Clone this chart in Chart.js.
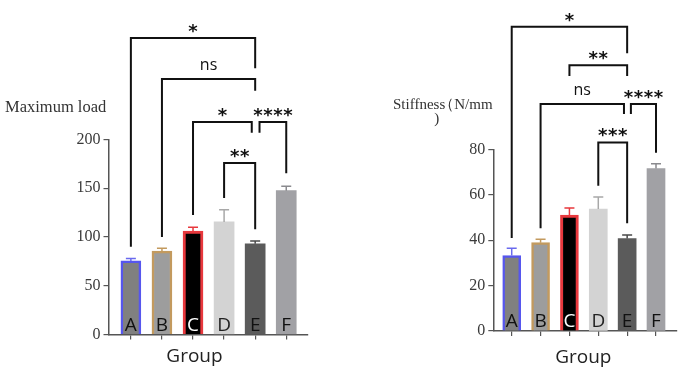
<!DOCTYPE html>
<html>
<head>
<meta charset="utf-8">
<script src="https://cdn.jsdelivr.net/npm/chart.js"></script>
<style>
  body { margin: 0; background: #fff; }
  #wrap { position: relative; width: 685px; height: 369px; }
  canvas { position: absolute; top: 0; }
</style>
</head>
<body>
<div id="wrap">
  <canvas id="load" width="345" height="369" style="left:0"></canvas>
  <canvas id="stiff" width="340" height="369" style="left:345px"></canvas>
</div>
<script>
const groups = ['A', 'B', 'C', 'D', 'E', 'F'];

const loadMeans = [75.5, 85.5, 106, 115.5, 93, 147.5];
const loadErrors = [2.5, 3, 4, 12.5, 3, 4.5];
const loadTicks = [0, 50, 100, 150, 200];

const stiffMeans = [33.2, 38.9, 51, 53.7, 40.7, 71.5];
const stiffErrors = [3.2, 1.5, 3.2, 5.3, 1.6, 2.1];
const stiffTicks = [0, 20, 40, 60, 80];

// [from group, to group, bracket height, left foot, right foot, label] - data units
const loadBrackets = [
  [0, 4, 304, 90, 273, '*'],
  [1, 4, 262, 100, 250, 'ns'],
  [2, 3.89, 218, 122.5, 207, '*'],
  [4.14, 5, 218, 207, 165.5, '****'],
  [3, 4, 176, 140, 108, '**'],
];
const stiffBrackets = [
  [0, 4, 134, 41, 122.3, '*'],
  [2, 4, 117, 112.3, 112.3, '**'],
  [1, 3.89, 100, 45.2, 95.5, 'ns'],
  [4.13, 5, 100, 95.5, 78.5, '****'],
  [3, 4, 83, 64, 47.4, '***'],
];

const fills = ['#808080', '#9d9d9d', '#000000', '#d3d3d3', '#5b5b5b', '#a1a1a5'];
const borders = ['#5656ee', '#c39a5e', '#e8383d', '#d3d3d3', '#5b5b5b', '#a1a1a5'];
const borderWidths = [2.5, 2.5, 3, 0, 0, 0];
const errColors = ['#6a6aee', '#c39a5e', '#e8383d', '#a8a8a8', '#4a4a4a', '#8a8a8e'];
const letterColors = ['#111', '#111', '#fff', '#222', '#111', '#111'];

function overlay(cfg) {
  return {
    id: 'overlay',
    afterDraw(chart) {
      const ctx = chart.ctx;
      const xs = chart.scales.x, ys = chart.scales.y;
      const bars = chart.getDatasetMeta(0).data;
      ctx.save();

      // error bars + letters in bars
      bars.forEach((bar, i) => {
        const top = ys.getPixelForValue(cfg.means[i] + cfg.errors[i]);
        ctx.strokeStyle = errColors[i];
        ctx.lineWidth = 1.5;
        ctx.beginPath();
        ctx.moveTo(bar.x, bar.y);
        ctx.lineTo(bar.x, top);
        ctx.moveTo(bar.x - 5, top);
        ctx.lineTo(bar.x + 5, top);
        ctx.stroke();

        ctx.fillStyle = letterColors[i];
        ctx.font = '19px "Open Sans"';
        ctx.textAlign = 'center';
        ctx.textBaseline = 'alphabetic';
        ctx.fillText(groups[i], bar.x, chart.chartArea.bottom - 4);
      });

      // significance brackets
      ctx.strokeStyle = '#111';
      ctx.lineWidth = 2;
      ctx.lineJoin = 'miter';
      cfg.brackets.forEach(([a, b, h, fa, fb, label]) => {
        const x1 = xs.getPixelForValue(a), x2 = xs.getPixelForValue(b);
        const y = ys.getPixelForValue(h);
        ctx.beginPath();
        ctx.moveTo(x1, ys.getPixelForValue(fa));
        ctx.lineTo(x1, y);
        ctx.lineTo(x2, y);
        ctx.lineTo(x2, ys.getPixelForValue(fb));
        ctx.stroke();

        const mid = (x1 + x2) / 2;
        ctx.fillStyle = '#111';
        ctx.textAlign = 'center';
        if (label === 'ns') {
          ctx.font = '16px "Open Sans"';
          ctx.fillText(label, mid, y - 9);
        } else {
          ctx.font = 'bold 18px "DejaVu Sans"';
          const n = label.length;
          for (let k = 0; k < n; k++) {
            ctx.fillText('*', mid - (n - 1) * 5 + k * 10, y - 1);
          }
        }
      });

      // titles: pieces drawn one after another, [text, x, y, gap]
      ctx.fillStyle = '#333';
      ctx.font = cfg.titleFont;
      ctx.textAlign = 'left';
      let tx = null;
      cfg.titles.forEach(([txt, x, y, gap]) => {
        const px = (gap !== undefined && tx !== null) ? tx + gap : x;
        ctx.fillText(txt, px, y);
        tx = px + ctx.measureText(txt).width;
      });
      if (cfg.titleTail) {
        ctx.textAlign = 'center';
        ctx.fillText(cfg.titleTail[0], cfg.titleTail[1], cfg.titleTail[2]);
      }
      ctx.fillStyle = '#222';
      ctx.font = '19px "Open Sans"';
      ctx.textAlign = 'center';
      ctx.fillText('Group', cfg.groupX, cfg.groupY);
      ctx.restore();
    }
  };
}

function makeChart(id, cfg) {
  return new Chart(document.getElementById(id), {
    type: 'bar',
    data: {
      datasets: [{
        data: cfg.means.map((v, i) => ({ x: i, y: v })),
        backgroundColor: fills,
        borderColor: borders,
        borderWidth: borderWidths,
        barThickness: cfg.barW,
      }]
    },
    options: {
      responsive: false,
      animation: false,
      layout: { padding: cfg.pad },
      plugins: { legend: { display: false }, tooltip: { enabled: false } },
      scales: {
        x: {
          type: 'linear',
          offset: false,
          min: cfg.xMin,
          max: cfg.xMax,
          afterBuildTicks: s => { s.ticks = groups.map((g, i) => ({ value: i })); },
          afterFit: s => { s.height = cfg.xH; },
          ticks: { callback: () => '' },
          grid: { offset: false, drawOnChartArea: false, tickLength: 5, color: '#555', lineWidth: 1.2 },
          border: { color: '#555', width: 1.5 }
        },
        y: {
          min: 0,
          max: cfg.ticks[cfg.ticks.length - 1],
          afterBuildTicks: s => { s.ticks = cfg.ticks.map(v => ({ value: v })); },
          afterFit: s => { s.width = cfg.yW; },
          ticks: { font: { family: '"Liberation Serif", serif', size: 16 }, color: '#3a3a3a', padding: 3 },
          grid: { drawOnChartArea: false, tickLength: 5, color: '#555', lineWidth: 1.2 },
          border: { color: '#555', width: 1.5 }
        }
      }
    },
    plugins: [overlay(cfg)]
  });
}

makeChart('load', {
  means: loadMeans, errors: loadErrors, ticks: loadTicks, brackets: loadBrackets,
  pad: { left: 68.5, top: 139.5, right: 37, bottom: 0 },
  yW: 40, xH: 34.5, xMin: -0.72, xMax: 5.70, barW: 20,
  titleFont: '16.5px "Liberation Serif"',
  titles: [['Maximum load', 5, 111.5]],
  groupX: 194.5, groupY: 361.7
});

makeChart('stiff', {
  means: stiffMeans, errors: stiffErrors, ticks: stiffTicks, brackets: stiffBrackets,
  pad: { left: 108.3, top: 149.3, right: 8.3, bottom: 0 },
  yW: 40, xH: 38, xMin: -0.638, xMax: 5.717, barW: 18,
  titleFont: '15px "Liberation Serif"',
  titles: [['Stiffness', 48, 108.7], ['（', 0, 108.7, -6], ['N/mm', 0, 108.7, 0]],
  titleTail: [')', 91.7, 122.5],
  groupX: 238.3, groupY: 363
});
</script>
</body>
</html>
